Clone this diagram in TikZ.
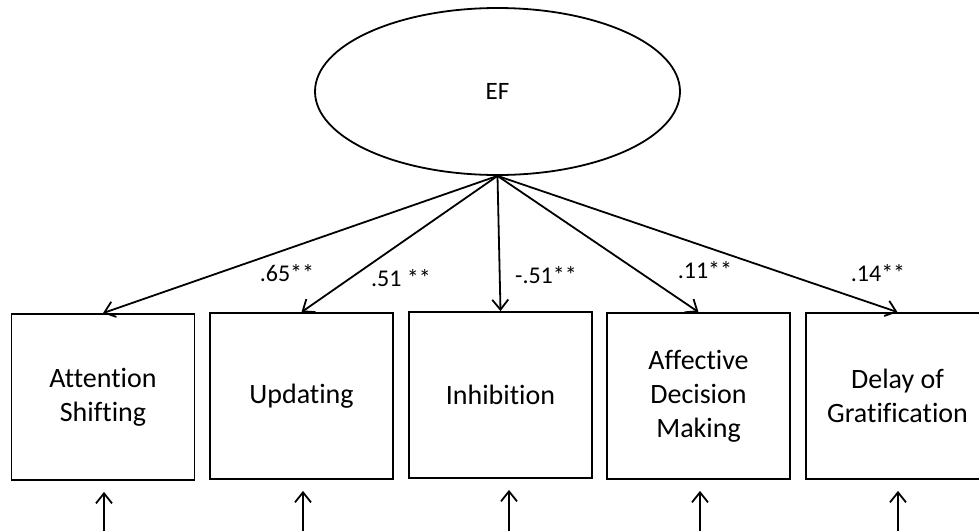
\documentclass[tikz,border=0pt]{standalone}
\usepackage{fontspec}
\setmainfont[Ligatures=NoCommon]{Carlito}
\usetikzlibrary{shapes.geometric,arrows.meta}
\begin{document}
\begin{tikzpicture}[x=0.5pt,y=-0.5pt, line width=0.9pt,
 obs/.style={draw, minimum width=91.5pt, minimum height=83pt, inner sep=0pt, align=center, font=\fontsize{14}{17}\selectfont},
 lat/.style={draw, ellipse, minimum width=182.5pt, minimum height=83.5pt, inner sep=0pt, font=\fontsize{12.5}{14}\selectfont},
 coef/.style={font=\fontsize{12}{14}\selectfont, inner sep=0pt},
 arr/.style={-{Straight Barb[length=5pt,width=8pt]}},
 errarr/.style={-{Straight Barb[length=5pt,width=8pt]}, shorten >=5.5pt}]
\useasboundingbox (0,0) rectangle (979,531);
\node[lat] (EF) at (497.5,91.5) {EF};
\node[obs] (AS) at (103,397) {Attention\\Shifting};
\node[obs] (UP) at (301.5,396) {Updating};
\node[obs] (IN) at (500.5,395) {Inhibition};
\node[obs] (AD) at (698.5,396) {Affective\\Decision\\Making};
\node[obs] (DG) at (897.5,396) {Delay of\\Gratification};
\draw[arr] (EF.south) -- (AS.north);
\draw[arr] (EF.south) -- (UP.north);
\draw[arr] (EF.south) -- (IN.north);
\draw[arr] (EF.south) -- (AD.north);
\draw[arr] (EF.south) -- (DG.north);
\node[coef] (c1) at (287,273) {.65**};
\node[coef] (c2) at (401,278) {.51 **};
\node[coef] (c3) at (546,275) {-.51**};
\node[coef] (c4) at (705,270) {.11**};
\node[coef] (c5) at (878,273) {.14**};
\coordinate (e1) at (104,531);
\coordinate (e2) at (303,531);
\coordinate (e3) at (509,531);
\coordinate (e4) at (700,531);
\coordinate (e5) at (898,531);
\draw[errarr] (e1) -- (e1 |- AS.south);
\draw[errarr] (e2) -- (e2 |- UP.south);
\draw[errarr] (e3) -- (e3 |- IN.south);
\draw[errarr] (e4) -- (e4 |- AD.south);
\draw[errarr] (e5) -- (e5 |- DG.south);
\end{tikzpicture}
\end{document}
